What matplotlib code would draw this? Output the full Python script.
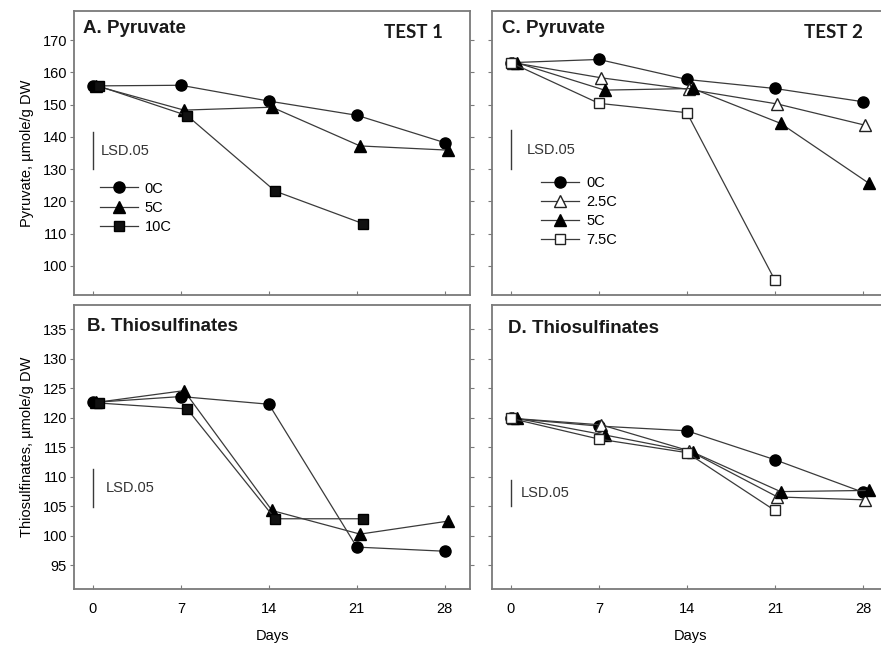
import matplotlib
matplotlib.use("Agg")
import matplotlib.pyplot as plt

plt.rcParams['font.family'] = ['Liberation Sans', 'DejaVu Sans']

# sampling days
days = [0, 7, 14, 21, 28]

# A. Pyruvate, test 1
pyr1_0C = [155.8, 156.0, 151.1, 146.7, 138.2]
pyr1_5C = [155.8, 148.3, 149.2, 137.2, 135.9]
pyr1_10C = [155.7, 146.6, 123.2, 113.1]

# B. Thiosulfinates, test 1
thio1_0C = [122.6, 123.6, 122.3, 98.1, 97.4]
thio1_5C = [122.6, 124.6, 104.3, 100.3, 102.5]
thio1_10C = [122.5, 121.5, 102.9, 102.9]

# C. Pyruvate, test 2
pyr2_0C = [163.0, 164.0, 157.8, 155.0, 150.9]
pyr2_25C = [163.0, 158.3, 154.7, 150.2, 143.6]
pyr2_5C = [163.0, 154.5, 155.0, 144.2, 125.7]
pyr2_75C = [163.0, 150.4, 147.5, 95.6]

# D. Thiosulfinates, test 2
thio2_0C = [119.9, 118.6, 117.8, 112.9, 107.4]
thio2_25C = [119.9, 118.8, 114.4, 106.6, 106.1]
thio2_5C = [119.9, 117.1, 114.2, 107.5, 107.7]
thio2_75C = [119.9, 116.4, 114.1, 104.3]

# LSD.05 bars (bottom, top) per panel
lsd_A = (129.9, 141.6)
lsd_B = (104.9, 111.4)
lsd_C = (129.9, 142.1)
lsd_D = (105.0, 109.5)

pyr_ticks = [100, 110, 120, 130, 140, 150, 160, 170]
thio_ticks = [95, 100, 105, 110, 115, 120, 125, 130, 135]

lc = '#3a3a3a'
sc = '#7a7a7a'

# marker styles for each temperature
sty = {
    '0C': dict(marker='o', ms=8, mfc='black', mec='black', dx=0.0),
    '2.5C': dict(marker='^', ms=8, mfc='white', mec='#222222', dx=0.2),
    '5C': dict(marker='^', ms=8, mfc='black', mec='black', dx=0.3),
    '10C': dict(marker='s', ms=7, mfc='#111111', mec='black', dx=0.5),
    '7.5C': dict(marker='s', ms=7.5, mfc='white', mec='#222222', dx=0.0),
}

fig = plt.figure(figsize=(8.81, 6.46), dpi=100)
W, H = 0.4495, 0.4396
axA = fig.add_axes([0.084, 0.5433, W, H])
axC = fig.add_axes([0.5585, 0.5433, W, H])
axB = fig.add_axes([0.084, 0.0882, W, H])
axD = fig.add_axes([0.5585, 0.0882, W, H])


def draw(ax, series, dx5=None):
    for name, vals in series:
        s = sty[name]
        dx = s['dx'] if dx5 is None or name != '5C' else dx5
        x = [d + dx for d in days[:len(vals)]]
        ax.plot(x, vals, color=lc, lw=0.9, marker=s['marker'], ms=s['ms'],
                mfc=s['mfc'], mec=s['mec'], mew=1.0, label=name)


draw(axA, [('0C', pyr1_0C), ('5C', pyr1_5C), ('10C', pyr1_10C)], dx5=0.25)
draw(axB, [('0C', thio1_0C), ('5C', thio1_5C), ('10C', thio1_10C)], dx5=0.25)
draw(axC, [('0C', pyr2_0C), ('2.5C', pyr2_25C), ('5C', pyr2_5C), ('7.5C', pyr2_75C)], dx5=0.45)
draw(axD, [('0C', thio2_0C), ('2.5C', thio2_25C), ('5C', thio2_5C), ('7.5C', thio2_75C)], dx5=0.45)

for ax in (axA, axB, axC, axD):
    ax.set_xlim(-1.5, 30)
    ax.set_xticks(days)
    for sp in ax.spines.values():
        sp.set_color(sc)
        sp.set_linewidth(1.3)
    ax.tick_params(axis='x', direction='in', length=3, color=sc, labelsize=10.5, pad=9)
    ax.tick_params(axis='y', direction='out', length=3, color=sc, labelsize=10.5, pad=2)

for ax in (axA, axC):
    ax.set_ylim(91, 179)
    ax.set_yticks(pyr_ticks)
    ax.tick_params(axis='x', labelbottom=False)
for ax in (axB, axD):
    ax.set_ylim(91, 139.1)
    ax.set_yticks(thio_ticks)
    ax.set_xlabel('Days', fontsize=10.5, labelpad=10)

for ax in (axA, axB):
    ax.tick_params(axis='y', right=True, which='both')
for ax in (axC, axD):
    ax.tick_params(axis='y', labelleft=False)

axA.set_ylabel('Pyruvate, µmole/g DW', fontsize=10.5, labelpad=6)
axB.set_ylabel('Thiosulfinates, µmole/g DW', fontsize=10.5, labelpad=6)

# panel titles
tf = dict(fontsize=13.5, fontweight='bold', color='#1a1a1a', va='center')
axA.text(0.022, 0.937, 'A. Pyruvate', transform=axA.transAxes, **tf)
axC.text(0.025, 0.937, 'C. Pyruvate', transform=axC.transAxes, **tf)
axB.text(0.032, 0.926, 'B. Thiosulfinates', transform=axB.transAxes, **tf)
axD.text(0.041, 0.918, 'D. Thiosulfinates', transform=axD.transAxes, **tf)
axA.text(0.932, 0.923, 'TEST 1', transform=axA.transAxes, ha='right',
         family=['Lato', 'DejaVu Sans'], **tf)
axC.text(0.936, 0.923, 'TEST 2', transform=axC.transAxes, ha='right',
         family=['Lato', 'DejaVu Sans'], **tf)

# LSD bars
for ax, (lo, hi), tx in ((axA, lsd_A, 0.6), (axB, lsd_B, 1.0),
                         (axC, lsd_C, 1.3), (axD, lsd_D, 0.8)):
    ax.plot([0, 0], [lo, hi], color=lc, lw=1.0)
    ax.text(tx, (lo + hi) / 2, 'LSD.05', fontsize=10.5,
            color='#333333', va='center')

legA = axA.legend(loc='upper left', bbox_to_anchor=(0.05, 0.42), frameon=False,
                  fontsize=10.5, handlelength=2.6, labelspacing=0.35,
                  handletextpad=0.5, borderaxespad=0)
legC = axC.legend(loc='upper left', bbox_to_anchor=(0.11, 0.44), frameon=False,
                  fontsize=10.5, handlelength=2.6, labelspacing=0.35,
                  handletextpad=0.5, borderaxespad=0)

fig.savefig('out.png', dpi=100)
